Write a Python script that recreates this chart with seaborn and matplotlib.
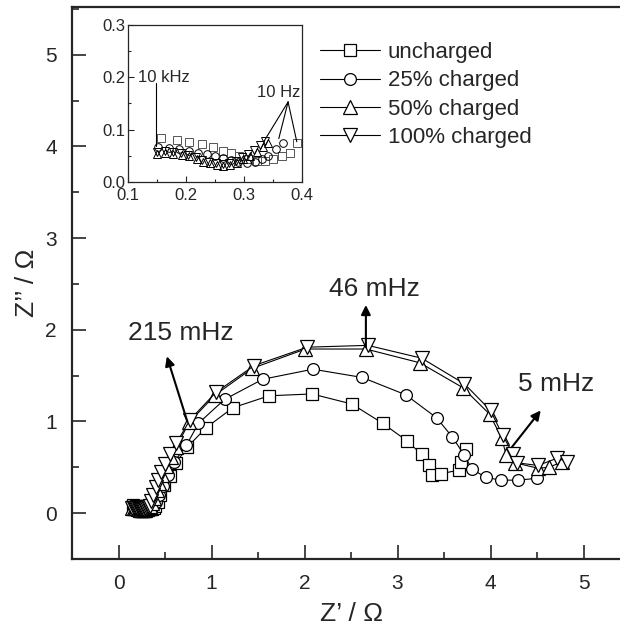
import numpy as np
import pandas as pd
import matplotlib
matplotlib.use("Agg")
import matplotlib.pyplot as plt
import seaborn as sns
from matplotlib.ticker import MultipleLocator

sns.set_style("ticks")
plt.rcParams['font.family'] = ['Liberation Sans', 'DejaVu Sans']

labels = ["uncharged", "25% charged", "50% charged", "100% charged"]
markers = ["s", "o", "^", "v"]

# High-frequency region (10 kHz -> 10 Hz), shown in inset and in main plot
hf_x_unch = [0.157, 0.184, 0.205, 0.228, 0.247, 0.264, 0.277, 0.292, 0.307, 0.322, 0.336, 0.350, 0.365, 0.379, 0.391]
hf_y_unch = [0.084, 0.080, 0.077, 0.073, 0.067, 0.060, 0.055, 0.049, 0.043, 0.040, 0.040, 0.043, 0.049, 0.056, 0.075]
hf_x_25 = [0.152, 0.170, 0.188, 0.205, 0.221, 0.236, 0.250, 0.264, 0.277, 0.290, 0.305, 0.319, 0.331, 0.342, 0.356, 0.367]
hf_y_25 = [0.067, 0.065, 0.063, 0.060, 0.056, 0.053, 0.050, 0.046, 0.042, 0.039, 0.037, 0.039, 0.043, 0.050, 0.064, 0.075]
hf_x_50 = [0.150, 0.164, 0.178, 0.193, 0.205, 0.219, 0.229, 0.241, 0.253, 0.264, 0.276, 0.288, 0.298, 0.310, 0.322, 0.333, 0.342]
hf_y_50 = [0.054, 0.056, 0.054, 0.052, 0.049, 0.044, 0.039, 0.036, 0.033, 0.031, 0.033, 0.036, 0.044, 0.050, 0.058, 0.067, 0.075]
hf_x_100 = [0.150, 0.164, 0.178, 0.192, 0.204, 0.217, 0.228, 0.240, 0.252, 0.263, 0.274, 0.286, 0.296, 0.307, 0.318, 0.328, 0.336]
hf_y_100 = [0.057, 0.059, 0.057, 0.055, 0.052, 0.047, 0.042, 0.039, 0.036, 0.034, 0.036, 0.040, 0.047, 0.054, 0.062, 0.071, 0.078]

# Low-frequency region (main plot)
lf_x_unch = [0.42, 0.45, 0.49, 0.55, 0.62, 0.74, 0.94, 1.23, 1.62, 2.08, 2.51, 2.84, 3.10, 3.26, 3.34, 3.37, 3.47, 3.66, 3.68, 3.74]
lf_y_unch = [0.12, 0.20, 0.31, 0.41, 0.55, 0.72, 0.93, 1.15, 1.28, 1.30, 1.19, 0.98, 0.79, 0.64, 0.53, 0.42, 0.43, 0.47, 0.56, 0.70]
lf_x_25 = [0.40, 0.44, 0.48, 0.53, 0.60, 0.73, 0.86, 1.14, 1.55, 2.09, 2.62, 3.09, 3.42, 3.59, 3.72, 3.80, 3.95, 4.11, 4.30, 4.50]
lf_y_25 = [0.12, 0.20, 0.30, 0.42, 0.56, 0.74, 0.98, 1.24, 1.46, 1.57, 1.48, 1.29, 1.04, 0.83, 0.63, 0.48, 0.39, 0.36, 0.36, 0.38]
lf_x_50 = [0.36, 0.38, 0.41, 0.44, 0.47, 0.51, 0.56, 0.62, 0.76, 1.04, 1.44, 2.01, 2.66, 3.24, 3.70, 3.99, 4.12, 4.17, 4.26, 4.51, 4.63, 4.77]
lf_y_50 = [0.11, 0.17, 0.25, 0.33, 0.42, 0.51, 0.61, 0.72, 0.99, 1.29, 1.58, 1.79, 1.79, 1.64, 1.37, 1.08, 0.82, 0.63, 0.55, 0.49, 0.50, 0.56]
lf_x_100 = [0.35, 0.37, 0.40, 0.43, 0.46, 0.50, 0.55, 0.62, 0.77, 1.05, 1.46, 2.03, 2.68, 3.26, 3.72, 4.00, 4.13, 4.24, 4.28, 4.51, 4.72, 4.82]
lf_y_100 = [0.13, 0.20, 0.28, 0.36, 0.45, 0.54, 0.64, 0.76, 1.02, 1.32, 1.61, 1.81, 1.83, 1.69, 1.41, 1.12, 0.85, 0.65, 0.55, 0.52, 0.60, 0.56]

hf_x = [hf_x_unch, hf_x_25, hf_x_50, hf_x_100]
hf_y = [hf_y_unch, hf_y_25, hf_y_50, hf_y_100]
lf_x = [lf_x_unch, lf_x_25, lf_x_50, lf_x_100]
lf_y = [lf_y_unch, lf_y_25, lf_y_50, lf_y_100]

fig = plt.figure(figsize=(6.2, 6.3), dpi=100)
ax = fig.add_axes([72/620, 71/630, 558/620, 552/630])

for i in range(4):
    xs = hf_x[i] + lf_x[i]
    ys = hf_y[i] + lf_y[i]
    df = pd.DataFrame({"x": xs, "y": ys})
    sns.lineplot(data=df, x="x", y="y", ax=ax, sort=False, estimator=None,
                 color="black", lw=0.8, marker=markers[i],
                 markersize=10 if markers[i] in ("^", "v") else 8.5,
                 markerfacecolor="white", markeredgecolor="black",
                 markeredgewidth=0.9, label=labels[i])

ax.set_xlim(-0.5, 5.5)
ax.set_ylim(-0.5, 5.52)
ax.xaxis.set_major_locator(MultipleLocator(1))
ax.xaxis.set_minor_locator(MultipleLocator(0.5))
ax.yaxis.set_major_locator(MultipleLocator(1))
ax.yaxis.set_minor_locator(MultipleLocator(0.5))
ax.set_xticks([0, 1, 2, 3, 4, 5])
ax.set_yticks([0, 1, 2, 3, 4, 5])
ax.tick_params(which="major", direction="in", length=10, width=1.2, labelsize=15, pad=11)
ax.tick_params(which="minor", direction="in", length=5, width=1.2)
for s in ax.spines.values():
    s.set_linewidth(1.6)
ax.spines["right"].set_visible(False)
ax.set_xlabel("Z’ / Ω", fontsize=19, labelpad=6)
ax.set_ylabel("Z’’ / Ω", fontsize=19, labelpad=4)

# annotations main
arrow = dict(arrowstyle="-|>", color="black", lw=1.5, mutation_scale=14, shrinkA=0, shrinkB=0)
ax.annotate("", xy=(0.52, 1.71), xytext=(0.74, 1.0), arrowprops=arrow)
ax.text(0.67, 1.97, "215 mHz", fontsize=19, ha="center", va="center")
ax.annotate("", xy=(2.66, 2.27), xytext=(2.66, 1.81), arrowprops=arrow)
ax.text(2.75, 2.45, "46 mHz", fontsize=19, ha="center", va="center")
ax.annotate("", xy=(4.54, 1.12), xytext=(4.23, 0.72), arrowprops=arrow)
ax.text(4.71, 1.41, "5 mHz", fontsize=19, ha="center", va="center")

leg = ax.legend(loc="upper left", bbox_to_anchor=(320/620, (630-42)/630),
                bbox_transform=fig.transFigure, frameon=False, fontsize=16,
                handlelength=2.7, handletextpad=0.35, labelspacing=0.33,
                borderpad=0, borderaxespad=0)

# inset
ins = fig.add_axes([128/620, (630-182)/630, 174/620, 157/630])
for i in range(4):
    df = pd.DataFrame({"x": hf_x[i], "y": hf_y[i]})
    sns.lineplot(data=df, x="x", y="y", ax=ins, sort=False, estimator=None,
                 color="black", linestyle="none", marker=markers[i],
                 markersize=6 if markers[i] in ("^", "v") else 5.5,
                 markerfacecolor="none", markeredgecolor="black" if i else "#555555",
                 markeredgewidth=0.7)
ins.set_xlim(0.1, 0.4)
ins.set_ylim(0.0, 0.3)
ins.set_xticks([0.1, 0.2, 0.3, 0.4])
ins.set_yticks([0.0, 0.1, 0.2, 0.3])
ins.xaxis.set_minor_locator(MultipleLocator(0.05))
ins.yaxis.set_minor_locator(MultipleLocator(0.05))
ins.tick_params(which="major", direction="in", length=4, width=0.8, labelsize=12, pad=2)
ins.tick_params(axis="x", which="major", pad=4)
ins.tick_params(which="minor", direction="in", length=2, width=0.8)
ins.set_xlabel("")
ins.set_ylabel("")
for s in ins.spines.values():
    s.set_linewidth(0.9)
ins.plot([0.148, 0.148], [0.19, 0.068], color="black", lw=0.8)
ins.text(0.117, 0.2, "10 kHz", fontsize=12, ha="left", va="center")
ins.text(0.359, 0.156, "10 Hz", fontsize=12, ha="center", va="bottom")
for ex, ey in [(0.334, 0.077), (0.360, 0.083), (0.391, 0.077)]:
    ins.plot([0.376, ex], [0.153, ey], color="black", lw=0.8)

fig.savefig("out.png", dpi=100)
